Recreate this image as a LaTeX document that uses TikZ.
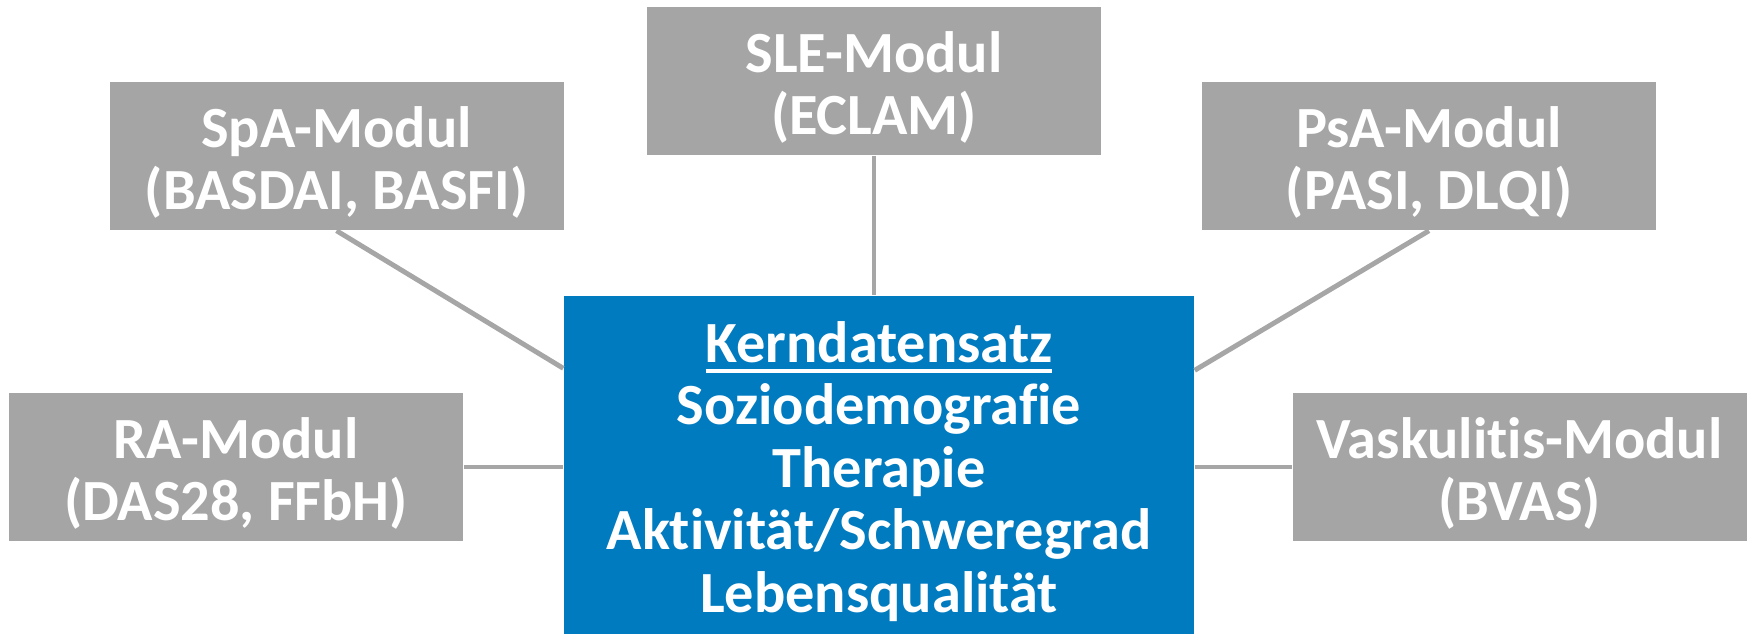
\documentclass[tikz,border=0pt]{standalone}
\usepackage{fontspec}
\setmainfont{Carlito}[Ligatures=NoCommon]
\usepackage{xcolor}
\definecolor{modulgrau}{RGB}{165,165,165}
\definecolor{liniengrau}{RGB}{166,166,166}
\definecolor{kernblau}{RGB}{0,123,192}
\newcommand{\kernline}[1]{\setbox0\hbox{#1}\rlap{\rule[-3pt]{\wd0}{1.1pt}}\box0}
\newcommand{\topgap}{\rule{0pt}{15pt}\\[-17.5pt]}

\begin{document}
\begin{tikzpicture}[
  modul/.style={fill=modulgrau, minimum width=4.54cm, minimum height=1.48cm, align=center, text=white, font=\fontsize{16.6}{17.8}\selectfont\bfseries, inner sep=0pt},
  kern/.style={fill=kernblau, minimum width=6.30cm, minimum height=3.38cm, align=center, text=white, font=\fontsize{16.6}{17.8}\selectfont\bfseries, inner sep=0pt},
  link/.style={draw=liniengrau, line width=1.4pt}
]
  \useasboundingbox (0,0) rectangle (17.52,6.34);

  \node[kern] (kern) at (8.79,1.69) {\topgap\kernline{Kerndatensatz}\\ Soziodemografie\\ Therapie\\ Aktivität/Schweregrad\\ Lebensqualität};

  \node[modul] (sle) at (8.74,5.53) {\topgap SLE-Modul\\ (ECLAM)};
  \node[modul] (spa) at (3.365,4.78) {\topgap SpA-Modul\\ (BASDAI, BASFI)};
  \node[modul] (psa) at (14.29,4.78) {\topgap PsA-Modul\\ (PASI, DLQI)};
  \node[modul] (ra) at (2.36,1.67) {\topgap RA-Modul\\ (DAS28, FFbH)};
  \node[modul] (vask) at (15.195,1.67) {\topgap Vaskulitis-Modul\\ (BVAS)};

  \draw[link] (sle.south) -- (sle.south |- kern.north);
  \draw[link] (spa.south) -- ([yshift=-0.73cm]kern.north west);
  \draw[link] (psa.south) -- ([yshift=-0.75cm]kern.north east);
  \draw[link] (ra.east) -- (ra.east -| kern.west);
  \draw[link] (vask.west) -- (vask.west -| kern.east);
\end{tikzpicture}
\end{document}
